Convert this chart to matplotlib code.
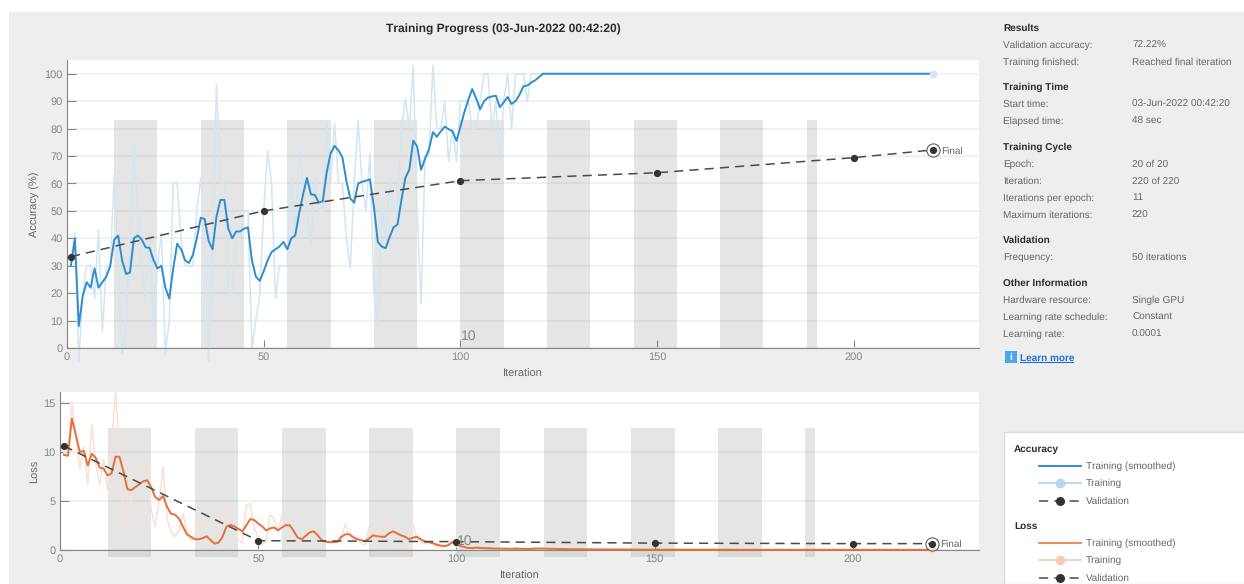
import numpy as np
import matplotlib
matplotlib.use('Agg')
import matplotlib.pyplot as plt
from matplotlib.patches import Rectangle

plt.rcParams['font.family'] = ['Liberation Sans', 'DejaVu Sans']
plt.rcParams['text.hinting'] = 'no_hinting'
plt.rcParams['text.hinting_factor'] = 1

# accuracy, training (smoothed), one value per iteration from 1
acc_smooth = [30, 40, 8, 19, 24, 22, 29, 22, 24, 26, 30, 39.5, 41, 32, 27, 27.5, 40, 41, 39.5, 36.7,
              36.5, 32, 29, 30, 22, 18, 29, 38, 36, 32, 31, 34, 40, 47.5, 47, 39, 36, 48, 54, 54,
              43.5, 40, 42.5, 42.5, 43.5, 44, 32, 26, 24.5, 28, 32, 35, 36, 37, 38.7, 36, 40, 41, 49, 56,
              62, 56, 55.8, 53, 53.5, 64, 71, 73.7, 72, 69.5, 61, 54.5, 53, 60, 60.6, 61, 61.5, 51.5, 38.7, 37,
              36.4, 40.5, 44, 45, 54, 62, 65, 75.6, 73.5, 65, 69, 72.5, 78.7, 77, 79, 80.7, 79.8, 79, 75.5, 80.7,
              86, 90.5, 94.4, 91, 87, 90, 91.3, 91.7, 92, 87.8, 89.6, 91.5, 89, 90, 92.3, 95.4, 95.7, 96.8, 97.6, 98.8,
              100, 100, 100, 100, 100, 100, 100, 100, 100, 100, 100, 100, 100, 100, 100, 100, 100, 100, 100, 100,
              100, 100, 100, 100, 100, 100, 100, 100, 100, 100, 100, 100, 100, 100, 100, 100, 100, 100, 100, 100,
              100, 100, 100, 100, 100, 100, 100, 100, 100, 100, 100, 100, 100, 100, 100, 100, 100, 100, 100, 100,
              100, 100, 100, 100, 100, 100, 100, 100, 100, 100, 100, 100, 100, 100, 100, 100, 100, 100, 100, 100,
              100, 100, 100, 100, 100, 100, 100, 100, 100, 100, 100, 100, 100, 100, 100, 100, 100, 100, 100, 100]

# accuracy, training (raw)
acc_raw = [30, 42, -5, 20, 30, 30, 18, 43, 6, 30, 30, 63, 30, -2, 10, 40, 74, 50, 30, 18,
           43, 6, 30, 42, -2, 10, 60, 60, 40, 30, 30, 30, 50, 62, 40, -5, 40, 96, 60, 60,
           20, 20, 40, 40, 50, 50, 0, 10, 20, 50, 72, 60, 18, 30, 30, 30, 63, 40, 72, 60,
           50, 38, 62, 50, 50, 82, 60, 82, 60, 60, 40, 29, 60, 83, 60, 50, 71, 20, 8, 52,
           40, 62, 50, 50, 80, 91, 80, 103, 50, 16, 70, 70, 103, 80, 80, 90, 68, 80, 68, 90,
           90, 90, 80, 80, 90, 100, 100, 80, 90, 68, 90, 100, 80, 100, 100, 100, 90, 100, 100, 100,
           100, 100, 100, 100, 100, 100, 100, 100, 100, 100, 100, 100, 100, 100, 100, 100, 100, 100, 100, 100,
           100, 100, 100, 100, 100, 100, 100, 100, 100, 100, 100, 100, 100, 100, 100, 100, 100, 100, 100, 100,
           100, 100, 100, 100, 100, 100, 100, 100, 100, 100, 100, 100, 100, 100, 100, 100, 100, 100, 100, 100,
           100, 100, 100, 100, 100, 100, 100, 100, 100, 100, 100, 100, 100, 100, 100, 100, 100, 100, 100, 100,
           100, 100, 100, 100, 100, 100, 100, 100, 100, 100, 100, 100, 100, 100, 100, 100, 100, 100, 100, 100]

# loss, training (smoothed)
loss_smooth = [9.7, 9.6, 13.4, 11.7, 10, 10.1, 8.6, 9.8, 9.4, 8.4, 8.3, 7.6, 7.8, 9.5, 9.5, 8, 6.2, 6.1, 6.4, 6.7,
               7, 7.1, 6.4, 5.4, 5.1, 5.5, 4.4, 3.7, 3.6, 3.2, 2.4, 1.6, 1.35, 1.1, 1.1, 1.2, 1.4, 1, 0.65, 0.75,
               1.35, 2.4, 2.55, 2.4, 2.15, 1.9, 2.5, 3.15, 3.05, 2.7, 2.4, 2, 2.2, 2.3, 2, 2.3, 2.55, 2.5, 1.9, 1.25,
               1.1, 1.45, 1.8, 1.9, 1.5, 1, 0.85, 0.8, 0.8, 0.85, 1.35, 1.6, 1.6, 1.3, 1.1, 1, 0.9, 1.2, 1.5, 1.4,
               1.35, 1.35, 1.7, 1.9, 1.7, 1.5, 1.35, 1.1, 1.25, 1.35, 1.1, 0.85, 0.8, 0.7, 0.55, 0.45, 0.4, 0.5, 0.8, 0.65,
               0.4, 0.3, 0.2, 0.2, 0.25, 0.2, 0.18, 0.18, 0.15, 0.15, 0.14, 0.14, 0.13, 0.12, 0.13, 0.12, 0.11, 0.1, 0.12, 0.14,
               0.15, 0.14, 0.13, 0.12, 0.1, 0.1, 0.09, 0.08, 0.08, 0.08, 0.07, 0.07, 0.07, 0.06, 0.06, 0.06, 0.06, 0.05, 0.05, 0.05,
               0.05, 0.05, 0.05, 0.05, 0.04, 0.04, 0.04, 0.04, 0.04, 0.04, 0.04, 0.04, 0.04, 0.03, 0.03, 0.03, 0.03, 0.03, 0.03, 0.03,
               0.03, 0.03, 0.03, 0.03, 0.03, 0.03, 0.03, 0.03, 0.03, 0.03, 0.02, 0.02, 0.02, 0.02, 0.02, 0.02, 0.02, 0.02, 0.02, 0.02,
               0.02, 0.02, 0.02, 0.02, 0.02, 0.02, 0.02, 0.02, 0.02, 0.02, 0.02, 0.02, 0.02, 0.02, 0.02, 0.02, 0.02, 0.02, 0.02, 0.02,
               0.02, 0.02, 0.02, 0.02, 0.02, 0.02, 0.02, 0.02, 0.02, 0.02, 0.02, 0.02, 0.02, 0.02, 0.02, 0.02, 0.02, 0.02, 0.02, 0.02]

# loss, training (raw)
loss_raw = [9.9, 9.9, 15, 11.7, 8.3, 10.5, 6.6, 12.8, 8.8, 6.7, 9.2, 6.1, 10.7, 16.1, 10.4, 2.9, 2, 5.6, 8.6, 8.7,
            8.6, 9, 4.1, 2.4, 4.9, 8.5, 3.2, 1.9, 1.35, 2, 3.7, 1.9, 1, 1.5, 2.5, 3.4, 1.2, 0.5, 0.85, 2,
            3.4, 4.3, 2.4, 2.2, 1, 0.7, 4.6, 4.7, 2.2, 1.2, 0.6, 0.85, 3.6, 3.2, 1.9, 3.5, 2.5, 2, 0.85, 0.6,
            0.8, 1.9, 2.2, 2.1, 1.9, 0.7, 0.9, 0.8, 1, 0.8, 1.5, 2.6, 1.5, 1, 1.2, 0.7, 0.5, 2.4, 1, 2.2,
            0.9, 2.8, 2.7, 1.2, 0.7, 0.5, 0.5, 0.2, 2.7, 1.2, 0.8, 0.6, 0.8, 0.7, 0.4, 0.3, 0.3, 0.6, 1, 0.3,
            0.2, 0.15, 0.1, 0.25, 0.3, 0.1, 0.1, 0.2, 0.1, 0.1, 0.12, 0.12, 0.1, 0.1, 0.3, 0.1, 0.08, 0.06, 0.2, 0.25,
            0.15, 0.1, 0.08, 0.06, 0.05, 0.08, 0.05, 0.05, 0.08, 0.06, 0.05, 0.05, 0.06, 0.04, 0.04, 0.05, 0.06, 0.03, 0.03, 0.04,
            0.05, 0.04, 0.04, 0.05, 0.03, 0.03, 0.03, 0.04, 0.03, 0.03, 0.04, 0.03, 0.03, 0.02, 0.03, 0.03, 0.02, 0.03, 0.03, 0.02,
            0.03, 0.02, 0.03, 0.03, 0.02, 0.03, 0.02, 0.03, 0.02, 0.03, 0.02, 0.02, 0.02, 0.02, 0.02, 0.02, 0.02, 0.02, 0.02, 0.02,
            0.02, 0.02, 0.02, 0.02, 0.02, 0.02, 0.02, 0.02, 0.02, 0.02, 0.02, 0.02, 0.02, 0.02, 0.02, 0.02, 0.02, 0.02, 0.02, 0.02,
            0.02, 0.02, 0.02, 0.02, 0.02, 0.02, 0.02, 0.02, 0.02, 0.02, 0.02, 0.02, 0.02, 0.02, 0.02, 0.02, 0.02, 0.02, 0.02, 0.02]

val_iter = [1, 50, 100, 150, 200, 220]
val_acc = [33.3, 50, 61, 63.9, 69.4, 72.2]
val_loss = [10.6, 0.95, 0.85, 0.7, 0.65, 0.65]

# epochs with a gray band (start, end iteration)
band_start = [12, 34, 56, 78, 100, 122, 144, 166, 188]
band_end = [23, 45, 67, 89, 111, 133, 155, 177, 190.5]

x_ticks = [0, 50, 100, 150, 200]
acc_ticks = [0, 10, 20, 30, 40, 50, 60, 70, 80, 90, 100]
loss_ticks = [0, 5, 10, 15]

info_results = [('Results', None), ('Validation accuracy:', '72.22%'), ('Training finished:', 'Reached final iteration')]
info_time = [('Training Time', None), ('Start time:', '03-Jun-2022 00:42:20'), ('Elapsed time:', '48 sec')]
info_cycle = [('Training Cycle', None), ('Epoch:', '20 of 20'), ('Iteration:', '220 of 220'),
              ('Iterations per epoch:', '11'), ('Maximum iterations:', '220')]
info_val = [('Validation', None), ('Frequency:', '50 iterations')]
info_other = [('Other Information', None), ('Hardware resource:', 'Single GPU'),
              ('Learning rate schedule:', 'Constant'), ('Learning rate:', '0.0001')]

W, H = 1244, 584
GRAY = '#858585'
TEXT = '#666666'
DARK = '#2b2b2b'
BLUE = '#2e8ecd'
BLUE_L = '#d2e5f2'
ORANGE = '#e4703a'
ORANGE_L = '#f8e0d5'
VAL = '#4a4a4a'
FS = 7.1

iters = np.arange(1, 221)

fig = plt.figure(figsize=(W / 100, H / 100), dpi=100, facecolor='white')

# fondo y textos en coordenadas de pixel
bg = fig.add_axes([0, 0, 1, 1], zorder=0)
bg.set_xlim(0, W)
bg.set_ylim(H, 0)
bg.axis('off')
bg.add_patch(Rectangle((9, 12), W - 9, H - 12, facecolor='#eeeeee', edgecolor='none'))

bg.text(503, 29.5, 'Training Progress (03-Jun-2022 00:42:20)', fontsize=8.3, fontweight='bold',
        color=DARK, ha='center', va='center')


def draw_panel(ax, smooth, raw, val, ticks, ymax, band_low, band_high, color, color_l, label, tick_h, ten_off):
    ax.set_facecolor('white')
    ax.set_xlim(0, 231.8)
    ax.set_ylim(0, ymax)
    for s, e in zip(band_start, band_end):
        ax.fill_between([s, e], band_low, band_high, color='#808080', alpha=0.2, lw=0, zorder=1, clip_on=False)
    ax.set_yticks(ticks)
    ax.set_xticks(x_ticks)
    ax.yaxis.grid(True, color='#efefef', lw=1.2, zorder=0)
    ax.set_axisbelow(True)
    ax.tick_params(axis='y', direction='in', length=6.5, width=0.8, color=GRAY, labelcolor=GRAY,
                   labelsize=FS + 0.7, pad=3)
    ax.tick_params(axis='x', direction='in', length=tick_h, width=0.8, color=GRAY, labelcolor=GRAY,
                   labelsize=FS + 0.7, pad=3)
    ax.spines['top'].set_visible(False)
    ax.spines['right'].set_visible(False)
    ax.spines['left'].set_color(GRAY)
    ax.spines['bottom'].set_color(GRAY)
    ax.plot(iters, raw, color=color_l, lw=1.1, zorder=2, clip_on=False)
    ax.plot(iters, smooth, color=color, lw=1.4, zorder=3, clip_on=False)
    ax.plot(iters[-1], raw[-1], 'o', color=color_l, ms=4.5, zorder=3, clip_on=False)
    ax.plot(val_iter, val, color=VAL, lw=1.1, dashes=(6, 4), marker='o', ms=4.2, mfc='#333333', mec='#333333',
            zorder=4, clip_on=False)
    ax.plot(val_iter[-1], val[-1], 'o', mfc='none', mec=VAL, ms=9.5, mew=0.7, zorder=5, clip_on=False)
    ax.annotate('Final', (val_iter[-1], val[-1]), xytext=(6, -0.7), textcoords='offset points',
                fontsize=FS + 0.2, color=TEXT, va='center', zorder=6)
    ax.set_xlabel('Iteration', fontsize=FS + 0.5, color=TEXT, labelpad=4.5)
    ax.set_ylabel(label, fontsize=FS + 0.5, color=TEXT, labelpad=3)
    ax.annotate('10', (100, 0), xytext=(0.5, ten_off), textcoords='offset points', fontsize=10, color=GRAY,
                va='bottom', ha='left', zorder=6)


def axes_px(left, top, right, bottom):
    return [left / W, 1 - bottom / H, (right - left) / W, (bottom - top) / H]


ax1 = fig.add_axes(axes_px(67, 60, 979, 348), zorder=2)
draw_panel(ax1, acc_smooth, acc_raw, val_acc, acc_ticks, 105, 0, 83, BLUE, BLUE_L, 'Accuracy (%)', 6, 3.5)

ax2 = fig.add_axes(axes_px(60, 392, 979, 550), zorder=2)
draw_panel(ax2, loss_smooth, loss_raw, val_loss, loss_ticks, 16.1, -0.7, 12.4, ORANGE, ORANGE_L, 'Loss', 4, 1.5)

# panel de informacion
y = 30.5
for bloco in [info_results, info_time, info_cycle, info_val, info_other]:
    for rotulo, valor in bloco:
        if valor is None:
            bg.text(1003, y, rotulo, fontsize=FS, fontweight='bold', color=DARK, va='baseline')
        else:
            bg.text(1003, y, rotulo, fontsize=FS, color=TEXT, va='baseline')
            bg.text(1132, y, valor, fontsize=FS, color=TEXT, va='baseline')
        y += 17
    y += 8.5

bg.add_patch(Rectangle((1005, 351), 12, 12, facecolor='#4aa8ec', edgecolor='none'))
bg.text(1011, 357.5, 'i', fontsize=7.5, fontweight='bold', color='white', ha='center', va='center')
bg.text(1020, 360.5, 'Learn more', fontsize=FS, fontweight='bold', color='#1f6fd0', va='baseline')
bg.plot([1020, 1073], [362, 362], color='#1f6fd0', lw=0.8)

# leyenda
bg.add_patch(Rectangle((1003.5, 432), W - 1003, H - 432, facecolor='white', edgecolor='#dcdcdc', lw=1))


def legend_group(title, y0, color, color_l):
    bg.text(1014, y0 + 3, title, fontsize=FS, fontweight='bold', color=DARK, va='baseline')
    bg.plot([1039, 1081], [y0 + 17, y0 + 17], color=color, lw=1.3)
    bg.text(1086, y0 + 20, 'Training (smoothed)', fontsize=FS, color=TEXT, va='baseline')
    bg.plot([1039, 1081], [y0 + 34, y0 + 34], color=color_l, lw=1.3)
    bg.plot([1060], [y0 + 34], 'o', color=color_l, ms=6)
    bg.text(1086, y0 + 37, 'Training', fontsize=FS, color=TEXT, va='baseline')
    bg.plot([1039, 1081], [y0 + 51.5, y0 + 51.5], color=VAL, lw=1.1, dashes=(6, 4))
    bg.plot([1060], [y0 + 51.5], 'o', color='#333333', ms=5.5)
    bg.text(1086, y0 + 54.5, 'Validation', fontsize=FS, color=TEXT, va='baseline')


legend_group('Accuracy', 449, '#1f86c8', '#b5d6ec')
legend_group('Loss', 526, '#ef8250', '#f5cdb9')

bg.set_xlim(0, W)
bg.set_ylim(H, 0)

fig.savefig('out.png', dpi=100)
